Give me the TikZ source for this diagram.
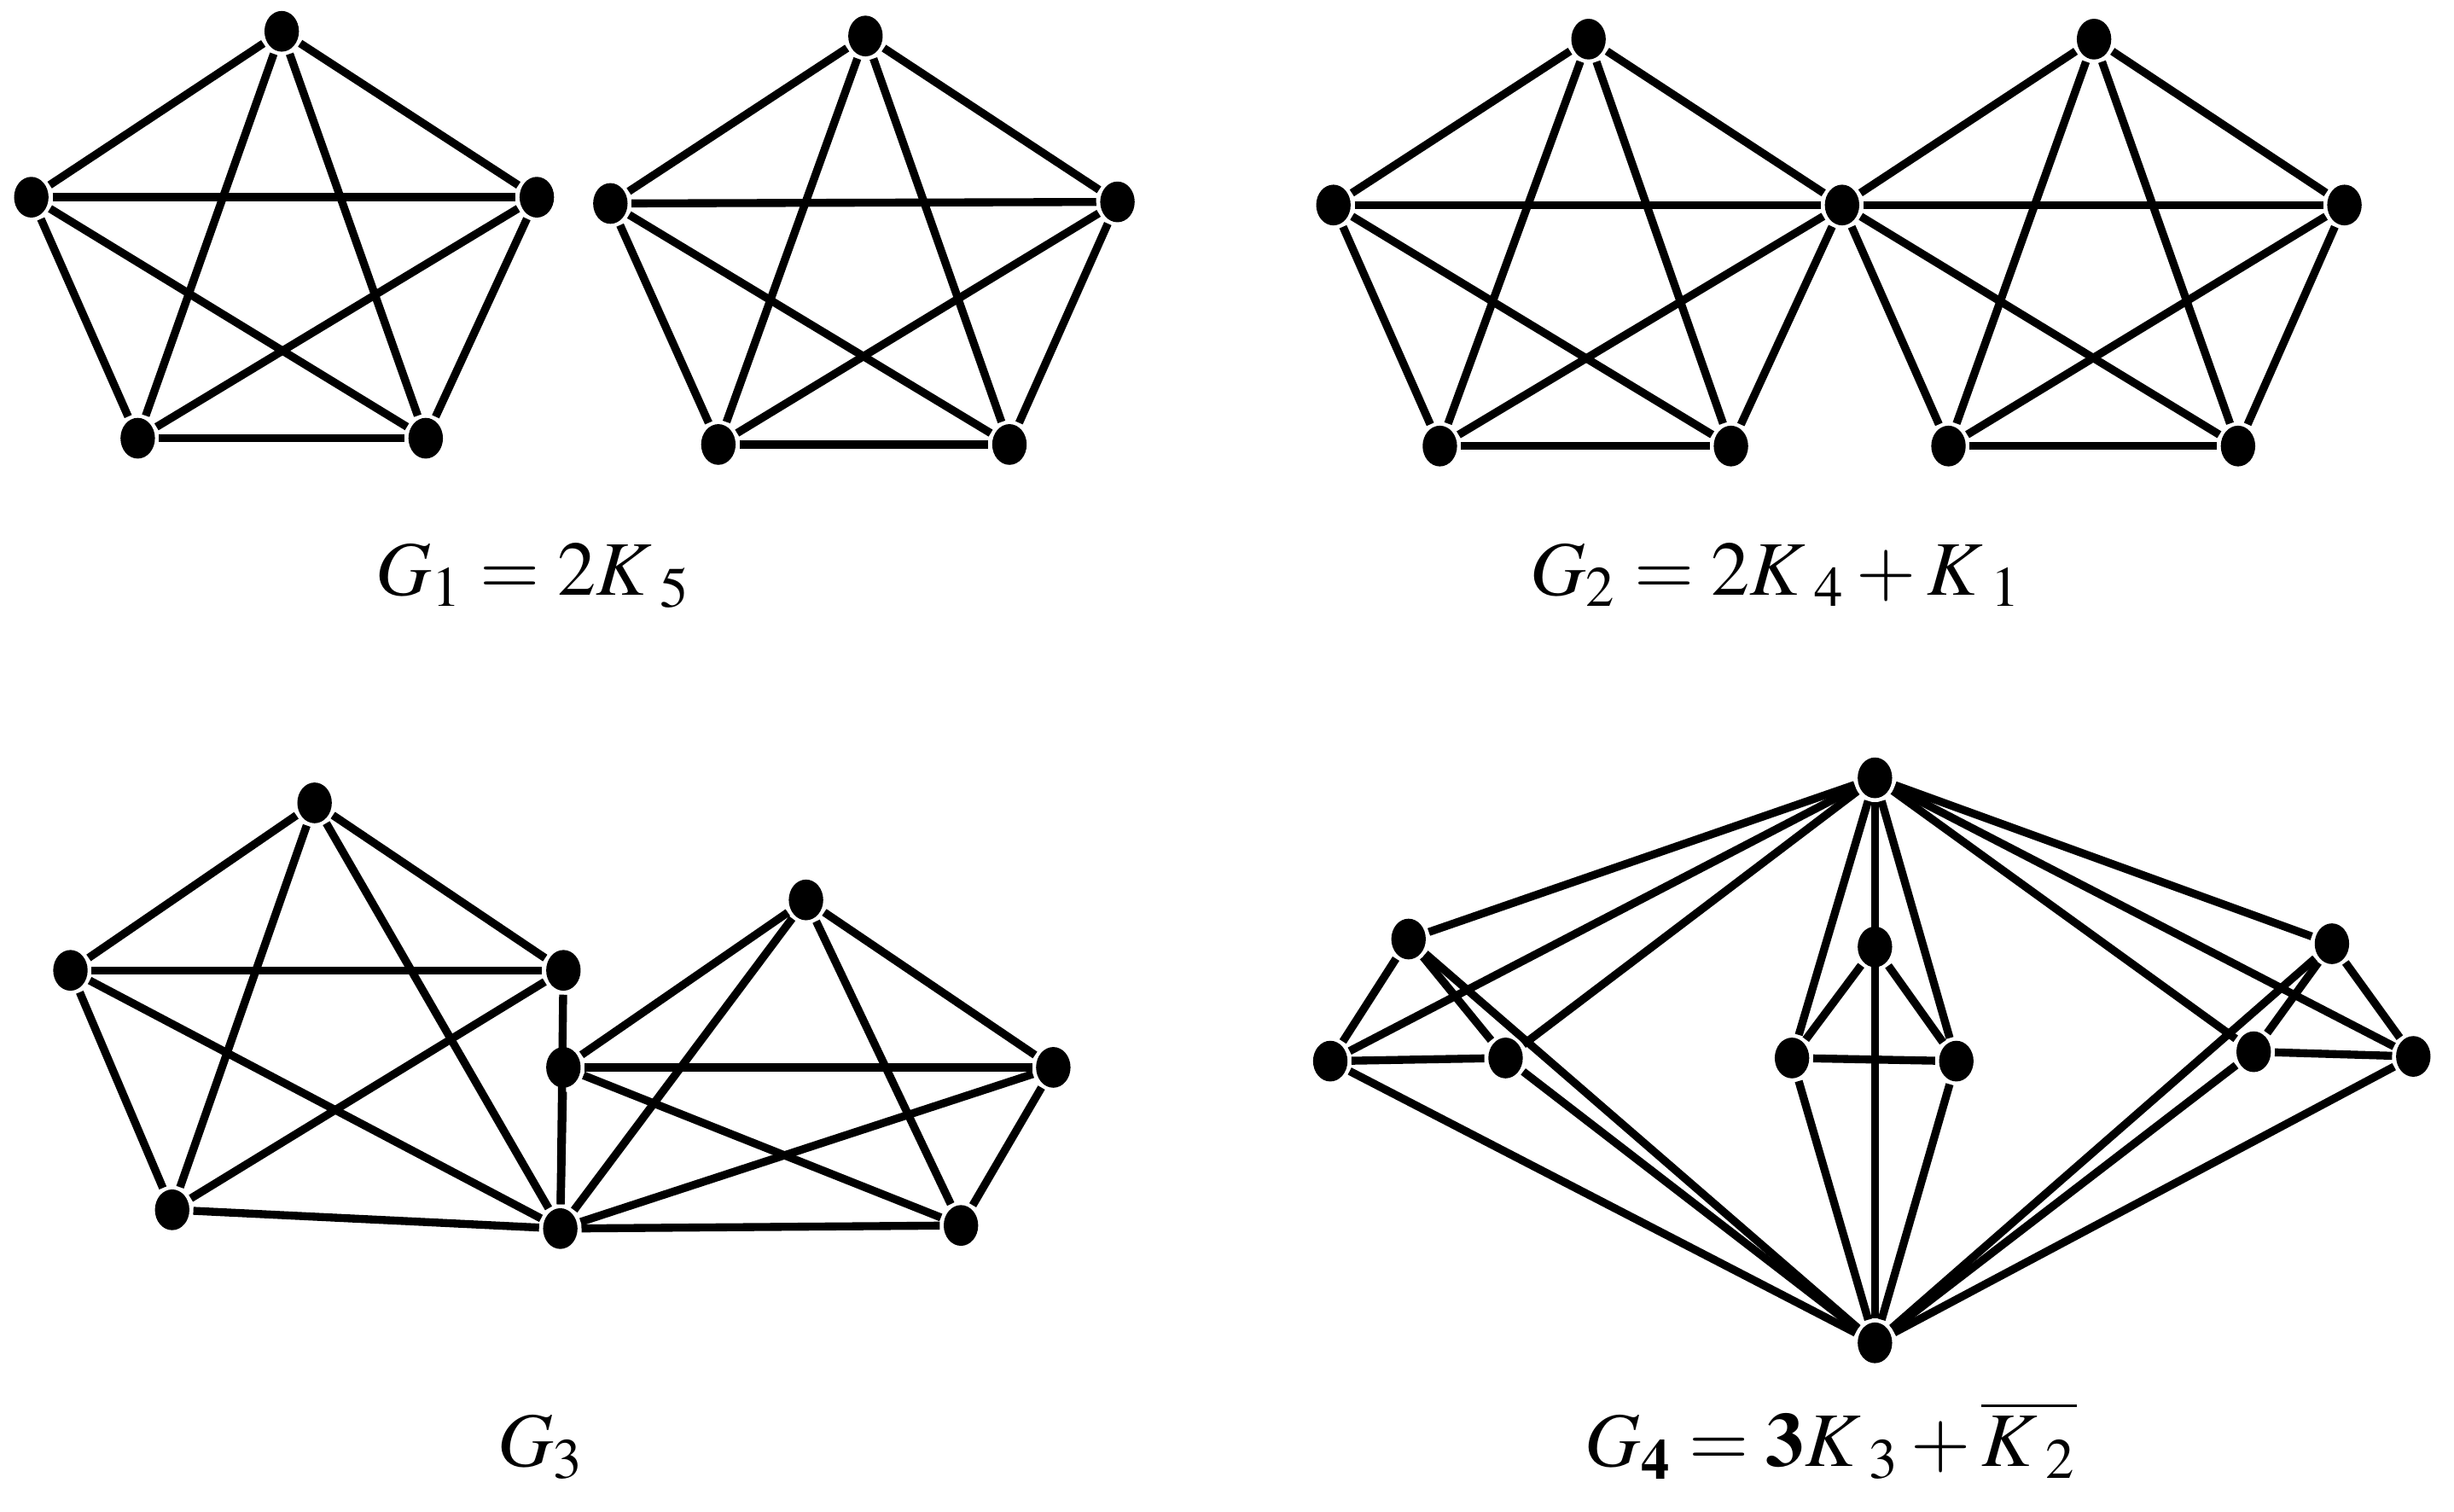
\documentclass[tikz,border=0pt]{standalone}
\usepackage{mathptmx}
\usetikzlibrary{shapes.geometric}
\tikzset{
  vtx/.style={ellipse, fill, inner sep=0pt, minimum width=2.2mm, minimum height=2.6mm},
  lbl/.style={anchor=base, font=\fontsize{14}{16}\selectfont}
}
\begin{document}
\begin{tikzpicture}[x=0.01cm, y=-0.01cm, line width=1.45pt]
			\useasboundingbox (0,0) rectangle (1568,966);
			% G1: two separate K5
			\node[vtx] (a1) at (180,20) {};
			\node[vtx] (a2) at (20,126) {};
			\node[vtx] (a3) at (343,126) {};
			\node[vtx] (a4) at (88,280) {};
			\node[vtx] (a5) at (272,280) {};
			\node[vtx] (p1) at (553,23) {};
			\node[vtx] (p2) at (390,130) {};
			\node[vtx] (p3) at (714,129) {};
			\node[vtx] (p4) at (459,284) {};
			\node[vtx] (p5) at (645,284) {};
			% G2: two K5 sharing the middle vertex
			\node[vtx] (b1) at (1015,25) {};
			\node[vtx] (b2) at (852,131) {};
			\node[vtx, alias=c1] (b3) at (1177,131) {};
			\node[vtx] (b4) at (920,285) {};
			\node[vtx] (b5) at (1106,285) {};
			\node[vtx] (c2) at (1338,25) {};
			\node[vtx] (c3) at (1498,131) {};
			\node[vtx] (c4) at (1245,285) {};
			\node[vtx] (c5) at (1430,285) {};
			% G3
			\node[vtx] (d1) at (201,513) {};
			\node[vtx] (d2) at (45,620) {};
			\node[vtx] (d3) at (360,620) {};
			\node[vtx] (d4) at (110,773) {};
			\node[vtx, alias=e1] (d5) at (358,785) {};
			\node[vtx] (e2) at (360,682) {};
			\node[vtx] (e3) at (515,575) {};
			\node[vtx] (e4) at (673,682) {};
			\node[vtx] (e5) at (614,783) {};
			% G4
			\node[vtx] (t) at (1198,497) {};
			\node[vtx] (b) at (1198,858) {};
			\node[vtx] (l1) at (900,600) {};
			\node[vtx] (l2) at (850,678) {};
			\node[vtx] (l3) at (962,676) {};
			\node[vtx] (m1) at (1198,605) {};
			\node[vtx] (m2) at (1145,676) {};
			\node[vtx] (m3) at (1250,678) {};
			\node[vtx] (r1) at (1490,603) {};
			\node[vtx] (r2) at (1440,672) {};
			\node[vtx] (r3) at (1542,675) {};
			% complete graphs
			\foreach \g in {a,p,b,c,d,e}
				\foreach \i [evaluate=\i as \k using int(\i+1)] in {1,...,4}
					\foreach \j in {\k,...,5}
						\draw (\g\i) -- (\g\j);
			\foreach \g in {l,m,r} {
				\draw (\g1) -- (\g2) -- (\g3) -- (\g1);
				\foreach \i in {1,2,3}
					\draw (t) -- (\g\i) -- (b);
			}
			\draw (t) -- (b);
			% labels
			\node[lbl] (g1) at (341,380) {$G_{1} = 2K\,{}_{5}$};
			\node[lbl] (g2) at (1135,380) {$G_{2} = 2K\,{}_{4} + K\,{}_{1}$};
			\node[lbl] (g3) at (346,937) {$G_{3}$};
			\node[lbl] (g4) at (1170,937) {$G_{\mathbf{4}} = \mathbf{3}K\,{}_{3} + \overline{K\,{}_{2}}$};
		\end{tikzpicture}
\end{document}
